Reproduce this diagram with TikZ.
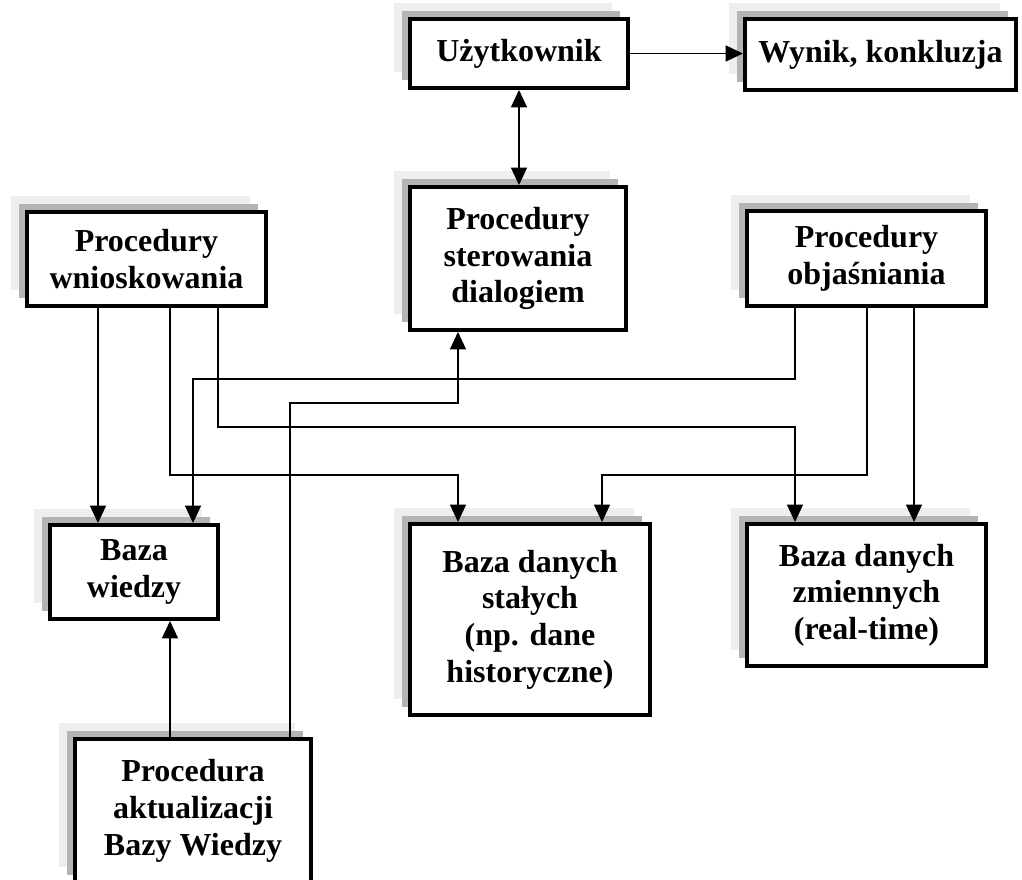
\documentclass[tikz,border=0pt]{standalone}
\usepackage{fontspec}
\setmainfont{Liberation Serif}
\usepackage{tikz}
\usetikzlibrary{
  positioning,
  arrows.meta,
  shadows
}
\usepackage{xcolor}
\definecolor{shlight}{HTML}{EEEEEE}
\definecolor{shdark}{HTML}{B4B4B4}

\begin{document}
\begin{tikzpicture}[
  x=0.75pt, y=-0.75pt,
  box/.style={draw, line width=3pt, fill=white, align=center,
              font=\bfseries\fontsize{24}{27.5}\selectfont,
              general shadow={fill=shlight, shadow xshift=-12pt, shadow yshift=12pt},
              general shadow={fill=shdark, shadow xshift=-6pt, shadow yshift=6pt}},
  arr/.style={-{Triangle[length=13pt, width=12pt]}, line width=1pt},
  darr/.style={{Triangle[length=13pt, width=12pt]}-{Triangle[length=13pt, width=12pt]}, line width=1pt}
]
  \useasboundingbox (0,0) rectangle (1022,880);

  % top row
  \node[box, minimum width=218*0.75pt, minimum height=69*0.75pt] (uzyt) at (519, 53.5) {Użytkownik};
  \node[box, minimum width=271*0.75pt, minimum height=71*0.75pt] (wynik) at (880.5, 54.5) {Wynik, konkluzja};

  % procedures
  \node[box, minimum width=239*0.75pt, minimum height=94*0.75pt] (wniosk) at (146.5, 259) {Procedury\\wnioskowania};
  \node[box, minimum width=216*0.75pt, minimum height=143*0.75pt] (sterow) at (518, 258.5) {Procedury\\sterowania\\dialogiem};
  \node[box, minimum width=239*0.75pt, minimum height=95*0.75pt] (objasn) at (866.5, 258.5) {Procedury\\objaśniania};

  % databases
  \node[box, minimum width=168*0.75pt, minimum height=94*0.75pt] (wiedza) at (134, 572) {Baza\\wiedzy};
  \node[box, minimum width=240*0.75pt, minimum height=191*0.75pt] (stale) at (530, 619.5) {Baza danych\\stałych\\(np. dane\\historyczne)};
  \node[box, minimum width=239*0.75pt, minimum height=142*0.75pt] (zmienne) at (866.5, 595) {Baza danych\\zmiennych\\(real-time)};

  \node[box, minimum width=236*0.75pt, minimum height=144*0.75pt] (aktual) at (193, 811) {Procedura\\aktualizacji\\Bazy Wiedzy};

  \draw[arr] (uzyt.east) -- (uzyt.east -| wynik.west);
  \draw[darr] (uzyt.south) -- (uzyt.south |- sterow.north);

  \draw[arr] (98,0 |- wniosk.south) -- (98,0 |- wiedza.north);
  \draw[arr] (170,0 |- wniosk.south) |- (458,475) -- (458,0 |- stale.north);
  \draw[arr] (218,0 |- wniosk.south) |- (795,427) -- (795,0 |- zmienne.north);

  \draw[arr] (795,0 |- objasn.south) |- (193,379) -- (193,0 |- wiedza.north);
  \draw[arr] (867,0 |- objasn.south) |- (602,475) -- (602,0 |- stale.north);
  \draw[arr] (914,0 |- objasn.south) -- (914,0 |- zmienne.north);

  \draw[arr] (170,0 |- aktual.north) -- (170,0 |- wiedza.south);
  \draw[arr] (290,0 |- aktual.north) |- (458,403) -- (458,0 |- sterow.south);
\end{tikzpicture}
\end{document}
